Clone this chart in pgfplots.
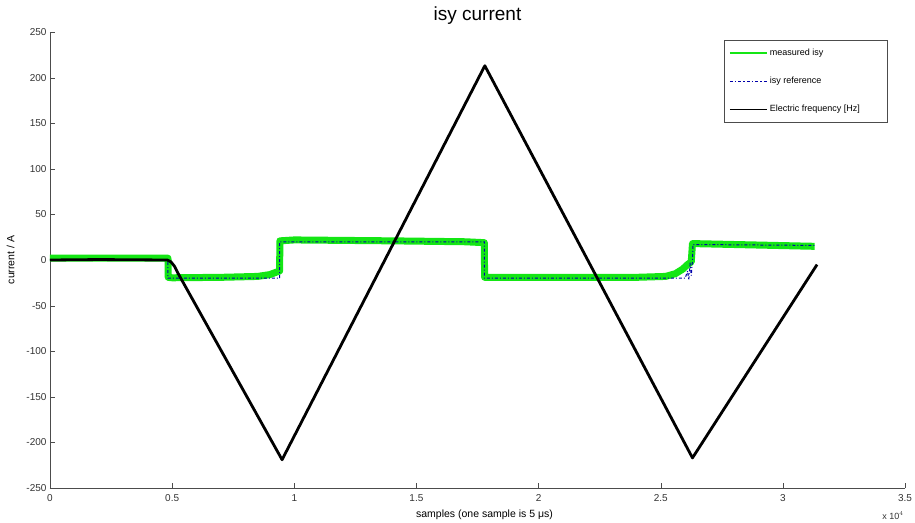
\documentclass[border=0pt]{standalone}
\usepackage{pgfplots}
\pgfplotsset{compat=1.18}
\usepackage{fontspec}
\setmainfont{Liberation Sans}
\definecolor{mgreen}{RGB}{20,230,20}
\definecolor{mblue}{RGB}{0,0,170}
\begin{document}
\begin{tikzpicture}
\useasboundingbox (-50pt,-34pt) rectangle (865pt,488pt);
\begin{axis}[
  scale only axis, width=855pt, height=456pt,
  xmin=0, xmax=35000, ymin=-250, ymax=250,
  axis lines=left, axis line style={-, draw=black!70},
  tick align=inside, major tick length=5pt,
  tick style={draw=black!70},
  scaled x ticks=false,
  xtick={0,5000,10000,15000,20000,25000,30000,35000},
  xticklabels={0,0.5,1,1.5,2,2.5,3,3.5},
  ytick={-250,-200,...,250},
  /pgf/number format/assume math mode=true,
  ticklabel style={font=\fontsize{10}{12}\selectfont, text=black!80},
  xticklabel style={yshift=-3pt},
  xlabel={samples (one sample is 5 μs)},
  ylabel={current / A},
  label style={font=\fontsize{10.5}{12}\selectfont},
  xlabel style={yshift=-1pt, xshift=7pt},
  ylabel style={yshift=5pt},
  title={isy current},
  title style={font=\fontsize{19}{22}\selectfont, yshift=-2pt},
  legend style={at={(0.979,0.982)}, anchor=north east, draw=black!70,
    font=\fontsize{9}{10}\selectfont, row sep=16pt, inner xsep=5pt, inner ysep=7pt},
  legend cell align=left,
  legend image code/.code={\draw[#1] (0pt,0pt) -- (37pt,0pt);},
]
\addlegendimage{color=mgreen, line width=2pt}
\addlegendentry{measured isy}
\addlegendimage{color=mblue, line width=1.5pt, dash dot}
\addlegendentry{isy reference}
\addlegendimage{color=black, line width=1.2pt}
\addlegendentry{\makebox[110pt][l]{Electric frequency [Hz]}}
\addplot[mgreen, line width=7pt, line join=round, forget plot] coordinates {
(0,2) (4830,2) (4840,-19) (5000,-19.5) (7000,-19) (8500,-18) (9000,-16) (9300,-13) (9400,-12)
(9410,21) (10000,22) (14000,21) (17000,20) (17780,19)
(17790,-19) (20000,-19) (24000,-19) (25200,-18) (25600,-15) (25900,-10) (26100,-5) (26250,-2)
(26300,18) (28000,17) (31300,15)
};
\addplot[mblue, line width=1pt, dash dot, forget plot] coordinates {
(0,0) (4830,0) (4830,-20) (9400,-20) (9400,20) (17780,20) (17780,-20) (26000,-20)
(26100,-12) (26150,-22) (26200,-3) (26250,-17) (26300,-1) (26320,17) (31300,16)
};
\addplot[black, line width=2.8pt, line join=round, forget plot] coordinates {
(0,0) (2000,0.5) (4800,0) (4950,-2) (5100,-7) (5250,-15) (9500,-219)
(17800,213) (26300,-217) (31400,-5)
};
\end{axis}
\node[font=\fontsize{9}{10}\selectfont, text=black!80] at (843pt,-28pt) {x 10$^{4}$};
\end{tikzpicture}
\end{document}
